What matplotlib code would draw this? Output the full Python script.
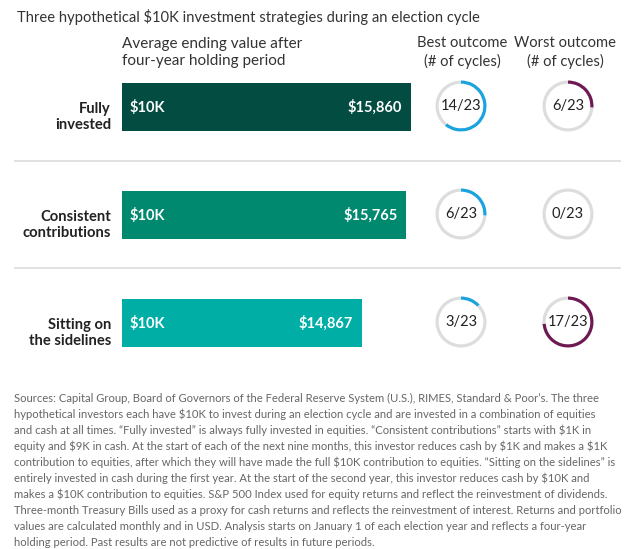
import matplotlib
matplotlib.use("Agg")
import matplotlib.pyplot as plt

plt.rcParams['font.family'] = ['Lato', 'DejaVu Sans']

# ---- data ----
strategies = ["Fully\ninvested", "Consistent\ncontributions", "Sitting on\nthe sidelines"]
start_value = 10000
ending_values = [15860, 15765, 14867]
start_labels = ["$10K", "$10K", "$10K"]
end_labels = ["$15,860", "$15,765", "$14,867"]
best_counts = [14, 6, 3]
worst_counts = [6, 0, 17]
total_cycles = 23
bar_colors = ["#024c41", "#00896f", "#00aea6"]
best_color = "#1aa3dd"
worst_color = "#6e1a52"
ring_gray = "#dddddd"

title = "Three hypothetical $10K investment strategies during an election cycle"
bar_header = "Average ending value after\nfour-year holding period"
best_header = "Best outcome\n(# of cycles)"
worst_header = "Worst outcome\n(# of cycles)"
footnote_lines = [
    "Sources: Capital Group, Board of Governors of the Federal Reserve System (U.S.), RIMES, Standard & Poor\u2019s. The three",
    "hypothetical investors each have $10K to invest during an election cycle and are invested in a combination of equities",
    "and cash at all times. \u201cFully invested\u201d is always fully invested in equities. \u201cConsistent contributions\u201d starts with $1K in",
    "equity and $9K in cash. At the start of each of the next nine months, this investor reduces cash by $1K and makes a $1K",
    "contribution to equities, after which they will have made the full $10K contribution to equities. \u201cSitting on the sidelines\u201d is",
    "entirely invested in cash during the first year. At the start of the second year, this investor reduces cash by $10K and",
    "makes a $10K contribution to equities. S&P 500 Index used for equity returns and reflect the reinvestment of dividends.",
    "Three-month Treasury Bills used as a proxy for cash returns and reflects the reinvestment of interest. Returns and portfolio",
    "values are calculated monthly and in USD. Analysis starts on January 1 of each election year and reflects a four-year",
    "holding period. Past results are not predictive of results in future periods.",
]

W, H = 624, 549
fig = plt.figure(figsize=(W / 100, H / 100), dpi=100)
fig.patch.set_facecolor("white")


def box(left, top, width, height):
    return [left / W, 1 - (top + height) / H, width / W, height / H]


def ftext(x, y, s, **kw):
    fig.text(x / W, 1 - y / H, s, **kw)


txt = "#333333"
ftext(17, 17, title, fontsize=10.65, color=txt, va="center", ha="left")
ftext(122, 52.5, bar_header, fontsize=11, color=txt, va="center", ha="left", linespacing=1.25)
ftext(462, 52.5, best_header, fontsize=10.6, color=txt, va="center", ha="center", linespacing=1.3)
ftext(565, 52.5, worst_header, fontsize=10.6, color=txt, va="center", ha="center", linespacing=1.3)

# ---- bars ----
row_px = 108
top_px = 107 - row_px / 2
axb = fig.add_axes(box(122, top_px, 296, row_px * 3))
ypos = list(range(len(strategies)))
widths = [v - start_value for v in ending_values]
axb.barh(ypos, widths, left=start_value, height=48 / row_px, color=bar_colors)
axb.set_xlim(start_value, 16000)
axb.set_ylim(len(strategies) - 0.5, -0.5)
axb.axis("off")
for i, (v, sl, el) in enumerate(zip(ending_values, start_labels, end_labels)):
    axb.annotate(sl, xy=(start_value, i), xytext=(8, 0), textcoords="offset pixels",
                 ha="left", va="center", color="white", fontsize=10.5, fontweight="bold")
    axb.annotate(el, xy=(v, i), xytext=(-9, 0), textcoords="offset pixels",
                 ha="right", va="center", color="white", fontsize=10.5, fontweight="bold")
    ftext(111, 117 + i * row_px, strategies[i], fontsize=10.6, color="#222222",
          ha="right", va="center", fontweight="bold", linespacing=1.2)

# separators
for yy in (161, 268):
    fig.add_artist(plt.Line2D([15 / W, 620 / W], [1 - yy / H, 1 - yy / H],
                              color="#dcdcdc", lw=1.2))

# ---- donuts ----
R = 25.5


def donut(cx, cy, n, color):
    ax = fig.add_axes(box(cx - 30, cy - 30, 60, 60))
    ax.pie([n, total_cycles - n] if n > 0 else [0.0001, total_cycles],
           colors=[color, ring_gray], startangle=90, counterclock=False,
           radius=1, wedgeprops=dict(width=3.2 / R, edgecolor="none"))
    lim = 30 / R
    ax.set_xlim(-lim, lim)
    ax.set_ylim(-lim, lim)
    ax.set_aspect("equal")
    ax.axis("off")
    ax.text(0, 0, f"{n}/{total_cycles}", ha="center", va="center",
            fontsize=10.5, color="#222222")


for i in range(len(strategies)):
    cy = 106 + i * row_px
    donut(461, cy, best_counts[i], best_color)
    donut(568, cy, worst_counts[i], worst_color)

# ---- footnote ----
for k, line in enumerate(footnote_lines):
    ftext(14, 398 + k * 16, line, fontsize=8.1, color="#666666", ha="left", va="center")

fig.savefig("out.png", dpi=100, facecolor="white")
